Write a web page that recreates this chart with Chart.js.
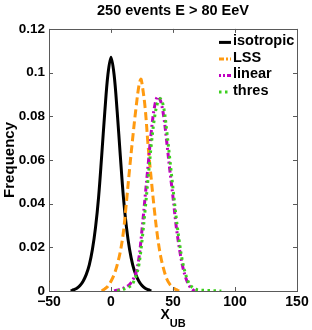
<!DOCTYPE html>
<html>
<head>
<meta charset="utf-8">
<script src="https://cdn.jsdelivr.net/npm/chart.js@4/dist/chart.umd.min.js"></script>
<style>
  html, body { margin: 0; padding: 0; background: #fff; }
  #wrap { width: 312px; height: 330px; }
</style>
</head>
<body>
<div id="wrap"><canvas id="chart" width="312" height="330"></canvas></div>
<script>
// values
const isoX = [-32.5, -30, -27.5, -25, -22.5, -20, -17.5, -15, -12.5, -10, -7.5, -5, -2.5, 0, 2.5, 5, 7.5, 10, 12.5, 15, 17.5, 20, 22.5, 25, 27.5, 30, 32.5];
const isoY = [0, 0.0006, 0.0013, 0.0025, 0.0045, 0.0075, 0.012, 0.019, 0.029, 0.043, 0.062, 0.082, 0.099, 0.107, 0.099, 0.082, 0.062, 0.043, 0.029, 0.019, 0.012, 0.0075, 0.0045, 0.0025, 0.0013, 0.0006, 0];

const lssX = [-7.5, -5, -2.5, 0, 2.5, 5, 7.5, 10, 12.5, 15, 17.5, 20, 22.5, 24, 25, 27.5, 30, 32.5, 35, 37.5, 40, 42.5, 45, 47.5, 50, 52.5, 55];
const lssY = [0, 0.001, 0.0022, 0.0045, 0.0075, 0.012, 0.018, 0.027, 0.041, 0.056, 0.070, 0.083, 0.094, 0.097, 0.095, 0.084, 0.066, 0.051, 0.037, 0.025, 0.016, 0.010, 0.0055, 0.003, 0.0015, 0.0006, 0];

const linX = [2.5, 5, 7.5, 10, 12.5, 15, 17.5, 20, 22.5, 25, 27.5, 30, 32.5, 35, 37.5, 40, 42.5, 45, 47.5, 50, 52.5, 55, 57.5, 60, 62.5, 65, 67.5];
const linY = [0, 0.0004, 0.0008, 0.0013, 0.002, 0.003, 0.005, 0.008, 0.015, 0.028, 0.043, 0.058, 0.073, 0.084, 0.089, 0.087, 0.080, 0.068, 0.055, 0.043, 0.030, 0.020, 0.012, 0.0065, 0.003, 0.001, 0];

const thrX = [5, 7.5, 10, 12.5, 15, 17.5, 20, 22.5, 25, 27.5, 30, 32.5, 35, 37.5, 40, 42.5, 45, 47.5, 50, 52.5, 55, 57.5, 60, 62.5, 65, 67.5, 70, 75, 80, 85, 89];
const thrY = [0, 0.0004, 0.0008, 0.0013, 0.002, 0.0035, 0.0065, 0.012, 0.023, 0.037, 0.052, 0.067, 0.079, 0.086, 0.088, 0.084, 0.073, 0.060, 0.047, 0.034, 0.023, 0.014, 0.008, 0.004, 0.002, 0.001, 0.0005, 0.0003, 0.0002, 0.0001, 0];

const seriesNames = ['isotropic', 'LSS', 'linear', 'thres'];
const xTicks = [-50, 0, 50, 100, 150];
const yTicks = [0, 0.02, 0.04, 0.06, 0.08, 0.1, 0.12];

const pts = (xs, ys) => xs.map((x, i) => ({ x: x, y: ys[i] }));
const axisColor = '#5a5a5a';

// box, inward ticks, legend and the X_UB label
const decor = {
  id: 'decor',
  afterDraw(chart) {
    const ctx = chart.ctx;
    const ca = chart.chartArea;
    const sx = chart.scales.x, sy = chart.scales.y;
    ctx.save();
    ctx.strokeStyle = axisColor;
    ctx.lineWidth = 1;
    ctx.strokeRect(Math.round(ca.left) + 0.5, Math.round(ca.top) + 0.5,
      Math.round(ca.right - ca.left), Math.round(ca.bottom - ca.top));
    ctx.beginPath();
    xTicks.forEach(v => {
      const px = Math.round(sx.getPixelForValue(v)) + 0.5;
      ctx.moveTo(px, ca.bottom); ctx.lineTo(px, ca.bottom - 4);
      ctx.moveTo(px, ca.top); ctx.lineTo(px, ca.top + 4);
    });
    yTicks.forEach(v => {
      const py = Math.round(sy.getPixelForValue(v)) + 0.5;
      ctx.moveTo(ca.left, py); ctx.lineTo(ca.left + 4, py);
      ctx.moveTo(ca.right, py); ctx.lineTo(ca.right - 4, py);
    });
    ctx.stroke();

    // legend
    const lx = ca.right - 78;
    let ly = ca.top + 12.5;
    ctx.font = 'bold 14.5px "Liberation Sans", Arial, sans-serif';
    ctx.textBaseline = 'middle';
    ctx.textAlign = 'left';
    chart.data.datasets.forEach(ds => {
      ctx.strokeStyle = ds.borderColor;
      ctx.lineWidth = 3;
      ctx.setLineDash(ds.legendDash || []);
      ctx.beginPath();
      ctx.moveTo(lx, ly + 1);
      ctx.lineTo(lx + 12, ly + 1);
      ctx.stroke();
      ctx.setLineDash([]);
      ctx.fillStyle = '#000';
      ctx.fillText(ds.label, lx + 14, ly);
      ly += 16.5;
    });

    // x label with subscript
    ctx.textBaseline = 'alphabetic';
    ctx.font = 'bold 14px "Liberation Sans", Arial, sans-serif';
    const wX = ctx.measureText('X').width;
    ctx.font = 'bold 11px "Liberation Sans", Arial, sans-serif';
    const wS = ctx.measureText('UB').width;
    const x0 = (ca.left + ca.right) / 2 - (wX + wS) / 2;
    ctx.font = 'bold 14px "Liberation Sans", Arial, sans-serif';
    ctx.fillText('X', x0, 319);
    ctx.font = 'bold 11px "Liberation Sans", Arial, sans-serif';
    ctx.fillText('UB', x0 + wX, 327);
    ctx.restore();
  }
};

new Chart(document.getElementById('chart'), {
  type: 'line',
  data: {
    datasets: [
      { label: seriesNames[0], data: pts(isoX, isoY), borderColor: '#000000', borderWidth: 3, order: 3 },
      { label: seriesNames[1], data: pts(lssX, lssY), borderColor: '#ff9a10', borderWidth: 3,
        borderDash: [8, 4], legendDash: [5, 2, 2, 2], order: 2 },
      { label: seriesNames[2], data: pts(linX, linY), borderColor: '#c000c0', borderWidth: 3,
        borderDash: [6, 3, 2, 3], legendDash: [2, 2, 2, 2, 6, 0], order: 1 },
      { label: seriesNames[3], data: pts(thrX, thrY), borderColor: '#3ccf1e', borderWidth: 3,
        borderDash: [2.5, 3.5], legendDash: [2.5, 3.5], order: 0 }
    ]
  },
  options: {
    responsive: false,
    animation: false,
    events: [],
    layout: { padding: { left: 0, right: 15, top: 0, bottom: 0 } },
    elements: {
      point: { radius: 0 },
      line: { tension: 0.35, borderCapStyle: 'butt', fill: false }
    },
    plugins: {
      legend: { display: false },
      tooltip: { enabled: false },
      title: {
        display: true,
        fullSize: false,
        text: '250 events E > 80 EeV',
        color: '#000',
        font: { family: '"Liberation Sans", Arial, sans-serif', size: 14.5, weight: 'bold' },
        padding: { top: 2, bottom: 9.5 }
      }
    },
    scales: {
      x: {
        type: 'linear',
        min: -50, max: 150,
        afterBuildTicks: s => { s.ticks = xTicks.map(v => ({ value: v })); },
        afterFit: s => { s.height = 39; },
        grid: { display: false, drawTicks: false },
        border: { display: false },
        ticks: {
          color: '#000',
          padding: 3,
          maxRotation: 0,
          font: { family: '"Liberation Sans", Arial, sans-serif', size: 14, weight: 'bold' },
          callback: v => v < 0 ? '\u2212' + Math.abs(v) : String(v)
        }
      },
      y: {
        type: 'linear',
        min: 0, max: 0.12,
        afterBuildTicks: s => { s.ticks = yTicks.map(v => ({ value: v })); },
        afterFit: s => { s.width = 49; },
        grid: { display: false, drawTicks: false },
        border: { display: false },
        title: {
          display: true,
          text: 'Frequency',
          color: '#000',
          font: { family: '"Liberation Sans", Arial, sans-serif', size: 15, weight: 'bold' },
          padding: { top: 1, bottom: 0 }
        },
        ticks: {
          color: '#000',
          padding: 4,
          font: { family: '"Liberation Sans", Arial, sans-serif', size: 13.5, weight: 'bold' },
          callback: v => String(+v.toFixed(2))
        }
      }
    }
  },
  plugins: [decor]
});
</script>
</body>
</html>
